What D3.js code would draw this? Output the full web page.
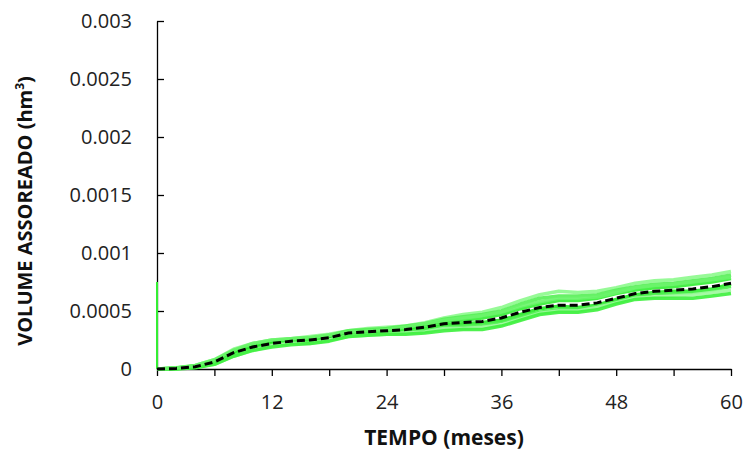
<!DOCTYPE html>
<html>
<head>
<meta charset="utf-8">
<script src="https://cdn.jsdelivr.net/npm/d3@7"></script>
<style>
  html, body { margin: 0; padding: 0; background: #fff; }
  #chartDiv { width: 745px; height: 453px; }
  .axis text { font-family: "Open Sans", sans-serif; font-size: 20px; fill: #222; }
  .axis path, .axis line { stroke: #000; stroke-width: 1.3; }
  .title { font-family: "Open Sans", sans-serif; font-weight: bold; fill: #111; }
</style>
</head>
<body>
<div id="chartDiv"></div>
<script>
'use strict';

// volumes are typed in units of 1e-5 hm3
const UNIT = 1e-5;

// months, every 2 months from 0 to 60
const months = [0,2,4,6,8,10,12,14,16,18,20,22,24,26,28,30,32,34,36,38,40,42,44,46,48,50,52,54,56,58,60];

// mean curve (black dashed)
const meanVol = [0,0.5,2,6,14,19,22,24,25,27,31,32,33,34,36,39,40,41,44,49,53,55,55,57,61,65,67,68,69,71,74];

// simulated realisations (green)
const simA = [0,1,3,8,17,22,25,26,28,30,33,35,36,37,40,44,47,49,53,59,64,67,66,67,70,74,76,77,79,81,84];
const simB = [0,0.8,2.5,7,16,21,24,26,27,29,33,34,35,37,39,43,45,47,50,56,61,63,63,64,68,71,73,74,76,78,81];
const simC = [0,0.7,2.5,7,15,20,23,25,26,28,32,33,34,35,38,41,42,44,47,52,56,59,59,61,65,68,70,71,73,75,78];
const simD = [0,0.5,2,5,13,18,22,24,24,26,31,32,33,34,35,38,39,40,42,47,52,54,53,55,60,64,66,67,67,69,73];
const simE = [0,0.3,1.5,5,12,17,21,23,23,25,29,30,31,32,34,36,37,38,41,45,49,51,52,54,58,62,65,65,66,68,71];
const simF = [0,0.2,1.5,4,11,16,20,22,22,25,28,29,30,31,32,35,35,36,38,43,48,50,50,53,57,61,62,63,64,66,68];
const simG = [0,0.1,1,4,11,16,19,21,22,24,28,29,30,30,31,33,34,34,37,42,47,49,49,51,56,60,61,61,61,63,65];
const simH = [0,0.8,3,8,16,22,25,26,27,29,32,33,34,36,39,42,44,46,49,54,58,61,61,62,66,70,72,73,75,77,79];

// one realisation drawn straight up the y axis at month 0
const spikeMonths = [0, 0];
const spikeVol = [0, 75];

const yTicks = [0, 0.0005, 0.001, 0.0015, 0.002, 0.0025, 0.003];
const xTicks = [0,6,12,18,24,30,36,42,48,54,60];
const xLabels = [0,12,24,36,48,60];

const simColors = ['#8cfa8c','#55f055','#33ee33','#22e822','#4af04a','#9cf89c','#3cf03c','#6af46a'];

const width = 745, height = 453;
const plot = { left: 157, right: 731, top: 21, bottom: 369 };

const svg = d3.select('#chartDiv').append('svg')
    .attr('width', width)
    .attr('height', height);

const xScale = d3.scaleLinear().domain([0, 60]).range([plot.left, plot.right]);
const yScale = d3.scaleLinear().domain([0, 0.003]).range([plot.bottom, plot.top]);

const toPoints = (xs, vs) => xs.map((m, i) => ({ x: m, y: vs[i] * UNIT }));

const line = d3.line()
    .x(d => xScale(d.x))
    .y(d => yScale(d.y));

// y axis, ticks pointing inward
svg.append('g')
    .attr('class', 'axis')
    .attr('transform', `translate(${plot.left},0)`)
    .call(d3.axisLeft(yScale)
        .tickValues(yTicks)
        .tickFormat(d => String(d))
        .tickSizeInner(-7)
        .tickSizeOuter(0)
        .tickPadding(25));

// x axis, ticks every 6 months, labels every 12
svg.append('g')
    .attr('class', 'axis')
    .attr('transform', `translate(0,${plot.bottom})`)
    .call(d3.axisBottom(xScale)
        .tickValues(xTicks)
        .tickFormat(d => xLabels.includes(d) ? String(d) : '')
        .tickSizeInner(7)
        .tickSizeOuter(0)
        .tickPadding(19));

svg.selectAll('.axis .domain').attr('stroke', '#000');

const gLines = svg.append('g');

gLines.append('path')
    .datum(toPoints(spikeMonths, spikeVol))
    .attr('fill', 'none')
    .attr('stroke', '#33ee33')
    .attr('stroke-width', 2)
    .attr('d', line);

[simA, simB, simC, simD, simE, simF, simG, simH].forEach((s, i) => {
    gLines.append('path')
        .datum(toPoints(months, s))
        .attr('fill', 'none')
        .attr('stroke', simColors[i])
        .attr('stroke-width', 3.5)
        .attr('stroke-linejoin', 'round')
        .attr('stroke-opacity', 0.9)
        .attr('d', line);
});

gLines.append('path')
    .datum(toPoints(months, meanVol))
    .attr('fill', 'none')
    .attr('stroke', '#000')
    .attr('stroke-width', 3)
    .attr('stroke-dasharray', '8,4')
    .attr('d', line);

svg.append('text')
    .attr('class', 'title')
    .attr('font-size', '21px')
    .attr('x', (plot.left + plot.right) / 2)
    .attr('y', 445)
    .attr('text-anchor', 'middle')
    .text('TEMPO (meses)');

const yTitle = svg.append('text')
    .attr('class', 'title')
    .attr('font-size', '20px')
    .attr('transform', 'translate(32,211) rotate(-90)')
    .attr('text-anchor', 'middle');
yTitle.append('tspan').text('VOLUME ASSOREADO (hm');
yTitle.append('tspan').attr('font-size', '12px').attr('dy', '-8').text('3');
yTitle.append('tspan').attr('dy', '8').text(')');
</script>
</body>
</html>
